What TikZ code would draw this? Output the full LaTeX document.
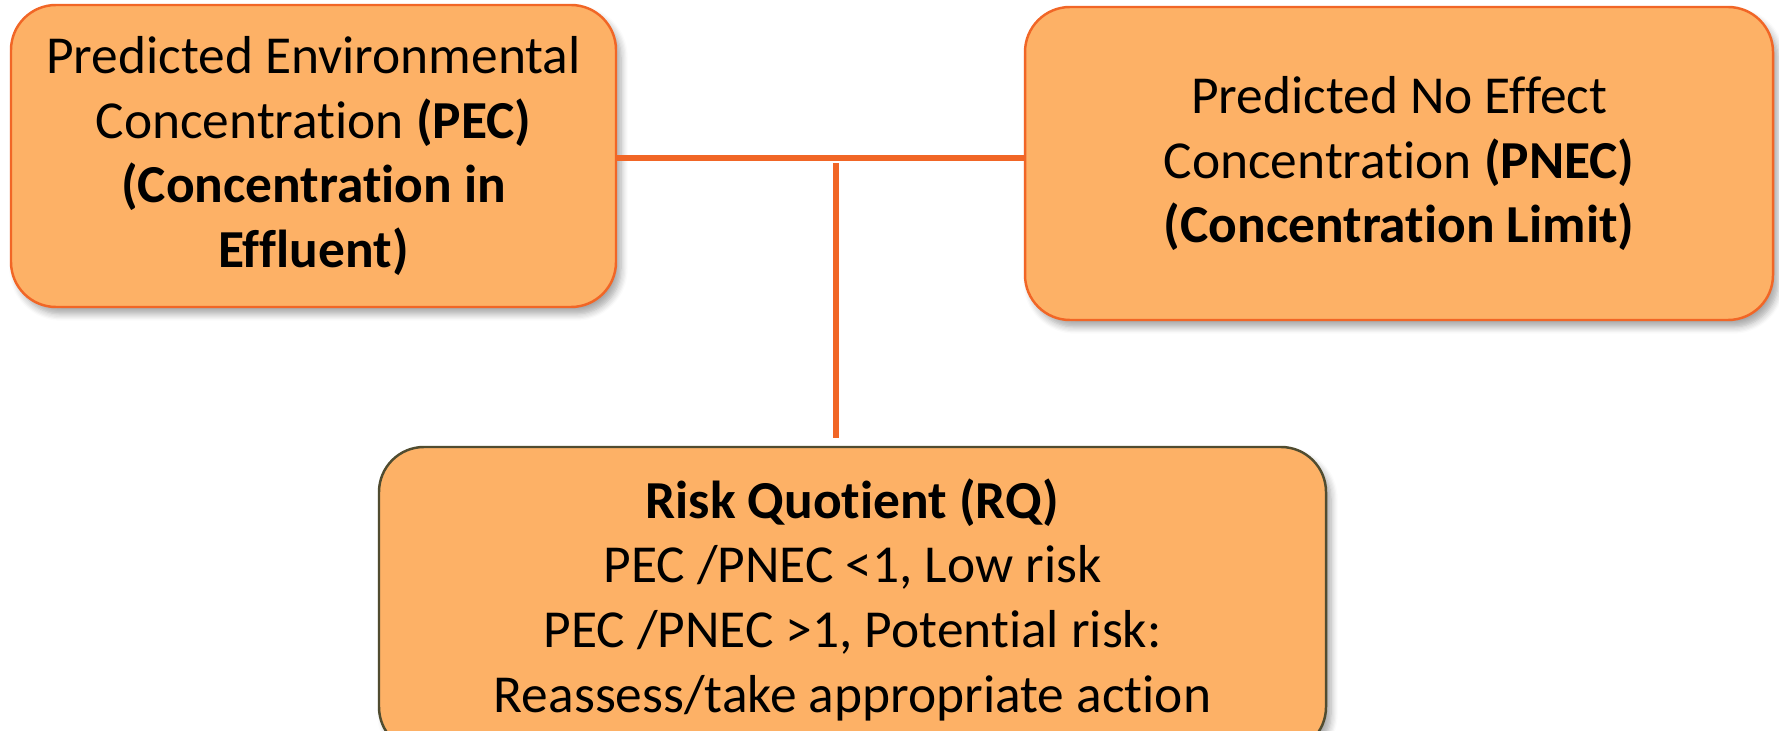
\documentclass[tikz,border=0pt]{standalone}
\usepackage{fontspec}
\setmainfont{Carlito}[Ligatures=NoCommon]
\usepackage{tikz}
\usetikzlibrary{shadows.blur}
\definecolor{boxorange}{RGB}{253,177,102}
\definecolor{lineorange}{RGB}{241,102,38}
\definecolor{rimdark}{RGB}{80,76,48}

\begin{document}
\begin{tikzpicture}[font=\fontsize{15.2}{18.4}\selectfont,
   bx/.style={draw=lineorange,fill=boxorange,rounded corners=4.5mm,line width=0.7pt,
              align=center,blur shadow={shadow xshift=0.5mm,shadow yshift=-0.7mm,
              shadow blur steps=6,shadow opacity=35}},
   link/.style={draw=lineorange,line width=1.6pt}]
  \clip (0,0) rectangle (17.79,7.30);
  \node[bx,minimum width=6.05cm,minimum height=3.02cm] (pec) at (3.135,5.74)
     {Predicted Environmental\\Concentration \textbf{(PEC)}\\\textbf{(Concentration in}\\\textbf{Effluent)}};
  \node[bx,minimum width=7.48cm,minimum height=3.13cm] (pnec) at (13.99,5.665)
     {Predicted No Effect\\Concentration \textbf{(PNEC)}\\\textbf{(Concentration Limit)}};
  \node[bx,draw=rimdark,minimum width=9.47cm,minimum height=3.05cm] (rq) at (8.525,1.305)
     {\textbf{Risk Quotient (RQ)}\\PEC /PNEC <1, Low risk\\PEC /PNEC >1, Potential risk:\\Reassess/take appropriate action};
  % T-shaped link
  \coordinate (tee) at (8.36,5.72);
  \coordinate (stemtop) at (8.36,5.67);
  \coordinate (stembot) at (8.36,2.92);
  \draw[link] (pec.east |- tee) -- (tee -| pnec.west);
  \draw[link] (stemtop) -- (stembot);
\end{tikzpicture}
\end{document}
